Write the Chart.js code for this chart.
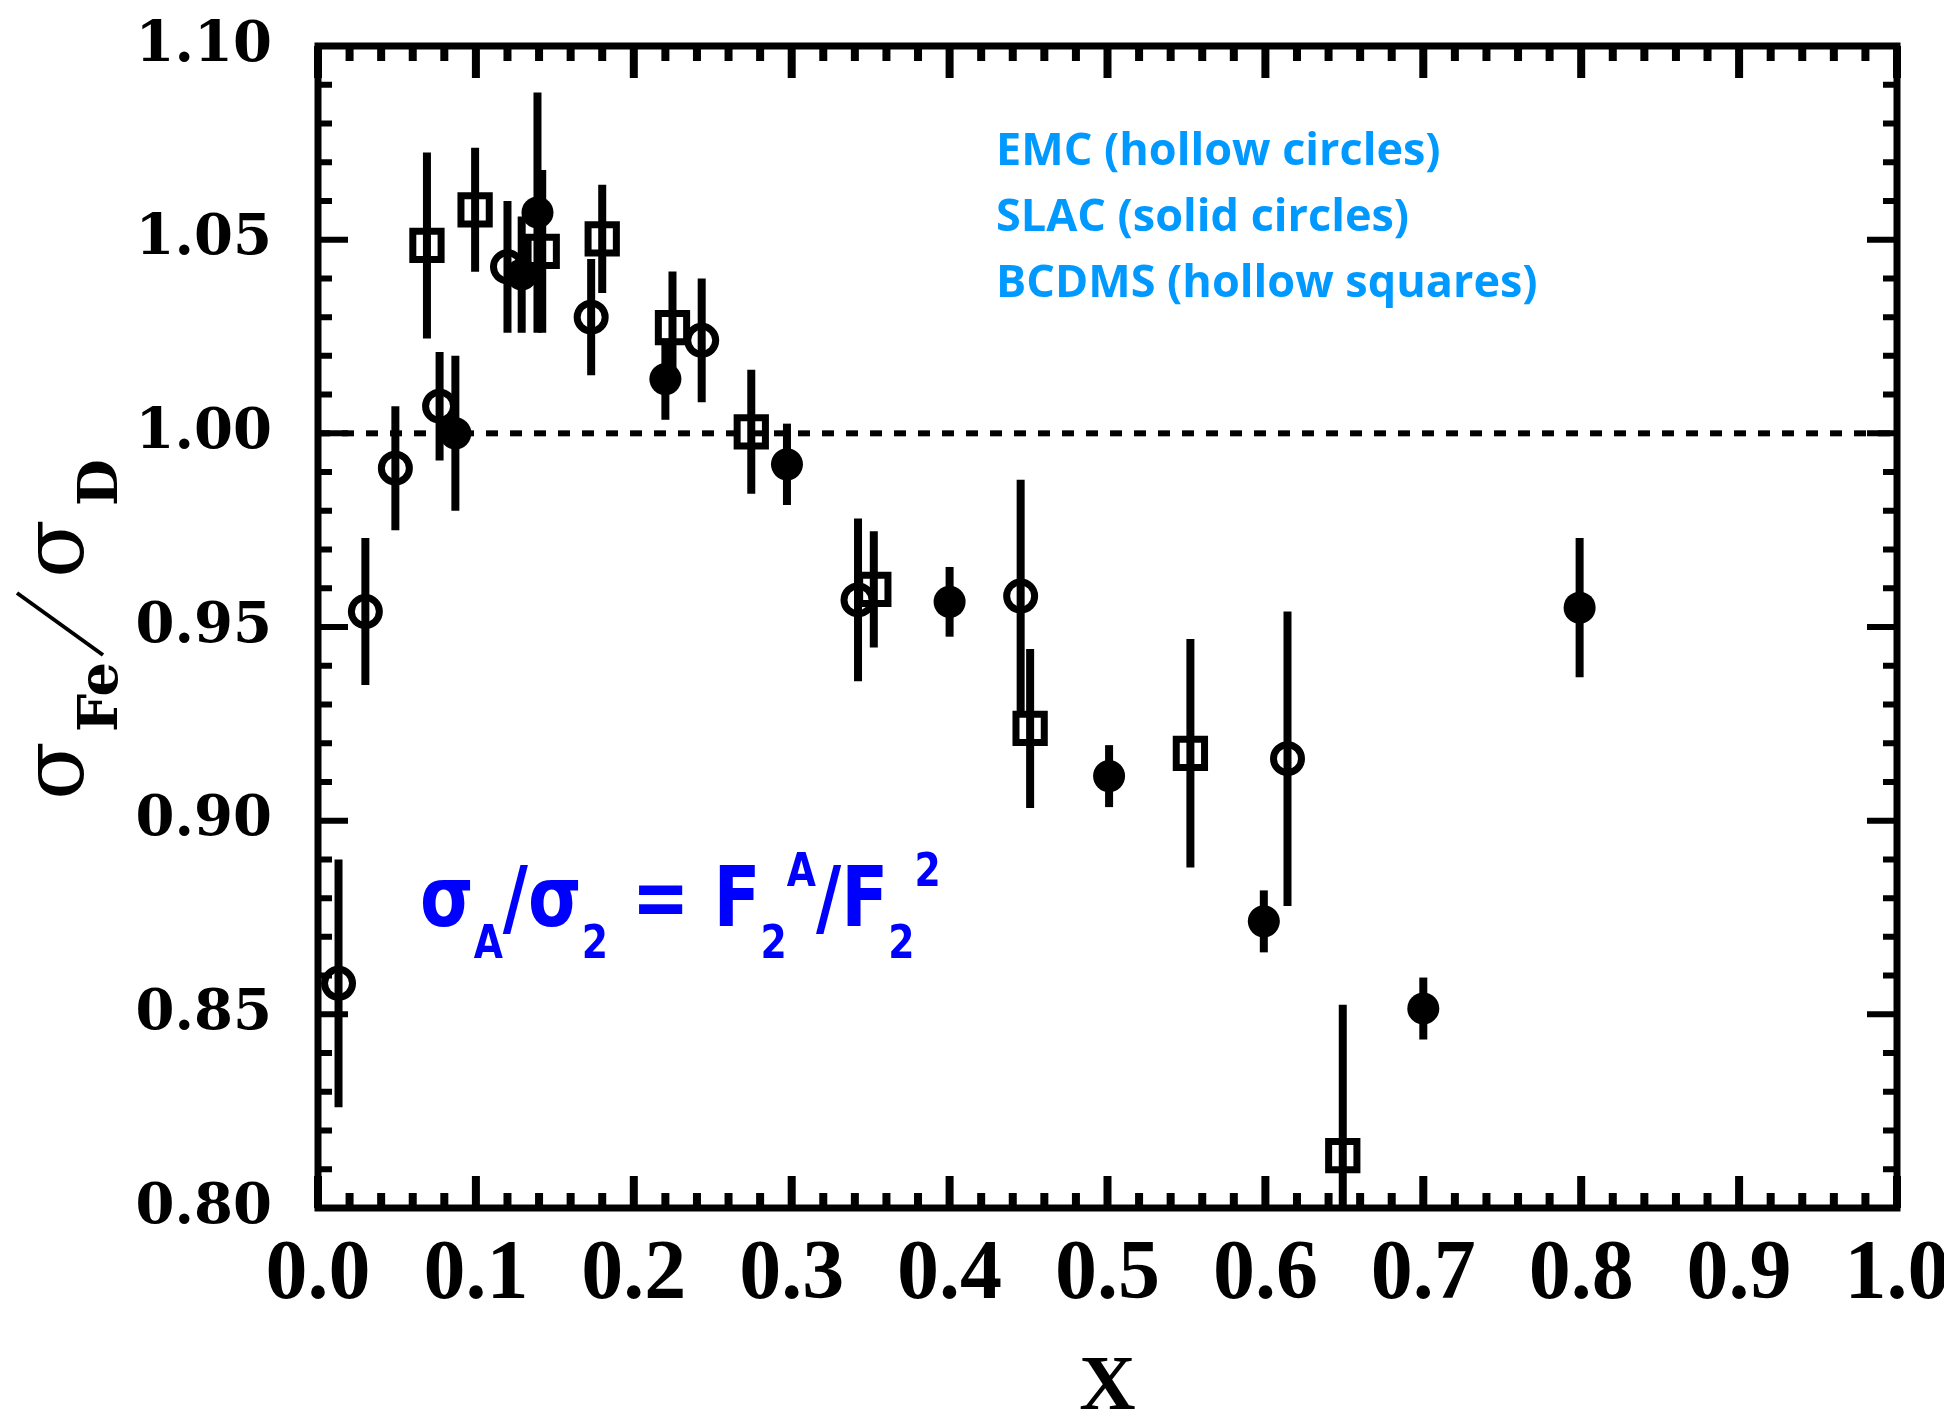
<!DOCTYPE html>
<html>
<head>
<meta charset="utf-8">
<script src="https://cdn.jsdelivr.net/npm/chart.js@4.4.1/dist/chart.umd.min.js"></script>
<style>
  html, body { margin: 0; padding: 0; background: #fff; }
  canvas { display: block; }
</style>
</head>
<body>
<canvas id="oranGrafik" width="1944" height="1419"></canvas>
<script>
// EMC (hollow circles)
const emcX = [0.013, 0.030, 0.049, 0.077, 0.120, 0.173, 0.243, 0.342, 0.445, 0.614];
const emcY = [0.858, 0.954, 0.991, 1.007, 1.043, 1.030, 1.024, 0.957, 0.958, 0.916];
const emcErr = [0.032, 0.019, 0.016, 0.014, 0.017, 0.015, 0.016, 0.021, 0.030, 0.038];

// SLAC (solid circles)
const slacX = [0.087, 0.129, 0.139, 0.220, 0.297, 0.400, 0.501, 0.599, 0.700, 0.799];
const slacY = [1.000, 1.041, 1.057, 1.014, 0.992, 0.9565, 0.9115, 0.874, 0.8515, 0.955];
const slacErr = [0.020, 0.015, 0.031, 0.0105, 0.0105, 0.009, 0.008, 0.008, 0.008, 0.018];

// BCDMS (hollow squares)
const bcdmsX = [0.069, 0.0995, 0.142, 0.180, 0.2245, 0.2744, 0.352, 0.451, 0.5525, 0.649];
const bcdmsY = [1.0485, 1.0577, 1.047, 1.0502, 1.0273, 1.0004, 0.9597, 0.9238, 0.9174, 0.8135];
const bcdmsErr = [0.024, 0.016, 0.021, 0.014, 0.0145, 0.016, 0.015, 0.0205, 0.0295, 0.039];

// Axes
const xTicks = [0.0, 0.1, 0.2, 0.3, 0.4, 0.5, 0.6, 0.7, 0.8, 0.9, 1.0];
const xTickLabels = ["0.0", "0.1", "0.2", "0.3", "0.4", "0.5", "0.6", "0.7", "0.8", "0.9", "1.0"];
const yTicks = [0.80, 0.85, 0.90, 0.95, 1.00, 1.05, 1.10];
const yTickLabels = ["0.80", "0.85", "0.90", "0.95", "1.00", "1.05", "1.10"];
const xMinorStep = 0.02;
const yMinorStep = 0.01;
const refLine = 1.0;

const legendLines = ["EMC (hollow circles)", "SLAC (solid circles)", "BCDMS (hollow squares)"];

function toPoints(xs, ys) {
  return xs.map((x, i) => ({ x: x, y: ys[i] }));
}

// Frame, inner ticks, dashed line and error bars (under the markers)
const frameAndErrors = {
  id: "frameAndErrors",
  beforeDatasetsDraw(chart) {
    const { ctx, chartArea: a, scales: { x, y } } = chart;
    ctx.save();
    ctx.strokeStyle = "#000";
    ctx.lineCap = "butt";

    // dashed line at 1.00
    const yRef = y.getPixelForValue(refLine);
    ctx.lineWidth = 6;
    ctx.setLineDash([12, 12]);
    ctx.beginPath();
    ctx.moveTo(a.left, yRef);
    ctx.lineTo(a.right, yRef);
    ctx.stroke();
    ctx.setLineDash([]);

    // x ticks (bottom + top)
    ctx.lineWidth = 8;
    const nx = Math.round((x.max - x.min) / xMinorStep);
    for (let i = 0; i <= nx; i++) {
      const px = x.getPixelForValue(x.min + i * xMinorStep);
      const len = i % 5 === 0 ? 32 : 15;
      ctx.beginPath();
      ctx.moveTo(px, a.bottom);
      ctx.lineTo(px, a.bottom - len);
      ctx.moveTo(px, a.top);
      ctx.lineTo(px, a.top + len);
      ctx.stroke();
    }

    // y ticks (left + right)
    ctx.lineWidth = 6;
    const ny = Math.round((y.max - y.min) / yMinorStep);
    for (let i = 0; i <= ny; i++) {
      const py = y.getPixelForValue(y.min + i * yMinorStep);
      const len = i % 5 === 0 ? 30 : 14;
      ctx.beginPath();
      ctx.moveTo(a.left, py);
      ctx.lineTo(a.left + len, py);
      ctx.moveTo(a.right, py);
      ctx.lineTo(a.right - len, py);
      ctx.stroke();
    }

    // frame
    ctx.lineWidth = 7;
    ctx.strokeRect(a.left, a.top, a.right - a.left, a.bottom - a.top);

    // error bars
    ctx.beginPath();
    ctx.rect(a.left, a.top, a.right - a.left, a.bottom - a.top);
    ctx.clip();
    ctx.lineWidth = 8;
    chart.data.datasets.forEach((ds) => {
      ds.data.forEach((p, i) => {
        const px = x.getPixelForValue(p.x);
        ctx.beginPath();
        ctx.moveTo(px, y.getPixelForValue(p.y - ds.errors[i]));
        ctx.lineTo(px, y.getPixelForValue(p.y + ds.errors[i]));
        ctx.stroke();
      });
    });
    ctx.restore();
  },
};

// Texts: legend, formula, y-axis title
const textPlugin = {
  id: "texts",
  afterDraw(chart) {
    const ctx = chart.ctx;
    ctx.save();
    ctx.textBaseline = "alphabetic";
    ctx.textAlign = "left";

    // legend
    ctx.fillStyle = "#0099ff";
    ctx.font = "bold 45px 'Open Sans'";
    legendLines.forEach((t, i) => ctx.fillText(t, 996, 165 + i * 66));

    // formula (slightly narrowed)
    ctx.save();
    ctx.fillStyle = "#0000ff";
    ctx.translate(420, 926);
    ctx.scale(0.82, 1);
    const parts = [["σ", "m"], ["A", "sub"], ["/", "m"], ["σ", "m"], ["2", "sub"], [" = ", "m"], ["F", "m"],
      ["2", "sub"], ["A", "sup"], ["/", "m"], ["F", "m"], ["2", "sub"], ["2", "sup"]];
    let fx = 0;
    parts.forEach(([t, k]) => {
      ctx.font = k === "m" ? "bold 84px 'DejaVu Sans'" : "bold 46px 'DejaVu Sans'";
      const dy = k === "sub" ? 32 : k === "sup" ? -40 : 0;
      ctx.fillText(t, fx, dy);
      fx += ctx.measureText(t).width;
    });
    ctx.restore();

    // y-axis title (rotated)
    ctx.fillStyle = "#000";
    ctx.strokeStyle = "#000";
    ctx.translate(83, 800);
    ctx.rotate(-Math.PI / 2);
    ctx.font = "86px 'DejaVu Serif'";
    ctx.fillText("σ", 0, 0);
    ctx.font = "bold 54px 'DejaVu Serif'";
    ctx.fillText("Fe", 68, 34);
    ctx.lineWidth = 4;
    ctx.beginPath();
    ctx.moveTo(145, 20);
    ctx.lineTo(207, -66);
    ctx.stroke();
    ctx.font = "86px 'DejaVu Serif'";
    ctx.fillText("σ", 222, 0);
    ctx.font = "bold 54px 'DejaVu Serif'";
    ctx.fillText("D", 294, 34);
    ctx.restore();
  },
};

function createRatioChart() {
  const ctx = document.getElementById("oranGrafik").getContext("2d");

  new Chart(ctx, {
    type: "scatter",
    data: {
      datasets: [
        {
          label: "BCDMS",
          data: toPoints(bcdmsX, bcdmsY),
          errors: bcdmsErr,
          pointStyle: "rect",
          pointRadius: 20,
          borderWidth: 7,
          borderColor: "#000",
          backgroundColor: "rgba(0,0,0,0)",
        },
        {
          label: "EMC",
          data: toPoints(emcX, emcY),
          errors: emcErr,
          pointStyle: "circle",
          pointRadius: 14,
          borderWidth: 7,
          borderColor: "#000",
          backgroundColor: "rgba(0,0,0,0)",
        },
        {
          label: "SLAC",
          data: toPoints(slacX, slacY),
          errors: slacErr,
          pointStyle: "circle",
          pointRadius: 16,
          borderWidth: 0,
          borderColor: "#000",
          backgroundColor: "#000",
        },
      ],
    },
    options: {
      responsive: false,
      animation: false,
      devicePixelRatio: 1,
      events: [],
      layout: { padding: { top: 46, right: 47, left: 0, bottom: 0 } },
      plugins: {
        legend: { display: false },
        tooltip: { enabled: false },
      },
      scales: {
        x: {
          type: "linear",
          min: 0,
          max: 1,
          grid: { display: false, drawTicks: false },
          border: { display: false },
          afterBuildTicks: (s) => { s.ticks = xTicks.map((v) => ({ value: v })); },
          afterFit: (s) => { s.height = 211; s.paddingLeft = 0; s.paddingRight = 0; },
          ticks: {
            autoSkip: false,
            maxRotation: 0,
            padding: 18,
            color: "#000",
            font: { family: "'Liberation Serif'", size: 84, weight: "bold" },
            callback: (v, i) => xTickLabels[i],
          },
          title: {
            display: true,
            text: "X",
            color: "#000",
            font: { family: "'Liberation Serif'", size: 78, weight: "bold", lineHeight: 0.6 },
            padding: { top: 0, bottom: 7 },
          },
        },
        y: {
          type: "linear",
          min: 0.8,
          max: 1.1,
          grid: { display: false, drawTicks: false },
          border: { display: false },
          afterBuildTicks: (s) => { s.ticks = yTicks.map((v) => ({ value: v })); },
          afterFit: (s) => { s.width = 318; s.paddingTop = 0; s.paddingBottom = 0; },
          ticks: {
            autoSkip: false,
            padding: 46,
            color: "#000",
            font: { family: "'DejaVu Serif'", size: 56, weight: "bold" },
            callback: (v, i) => yTickLabels[i],
          },
        },
      },
    },
    plugins: [frameAndErrors, textPlugin],
  });
}

createRatioChart();
</script>
</body>
</html>
